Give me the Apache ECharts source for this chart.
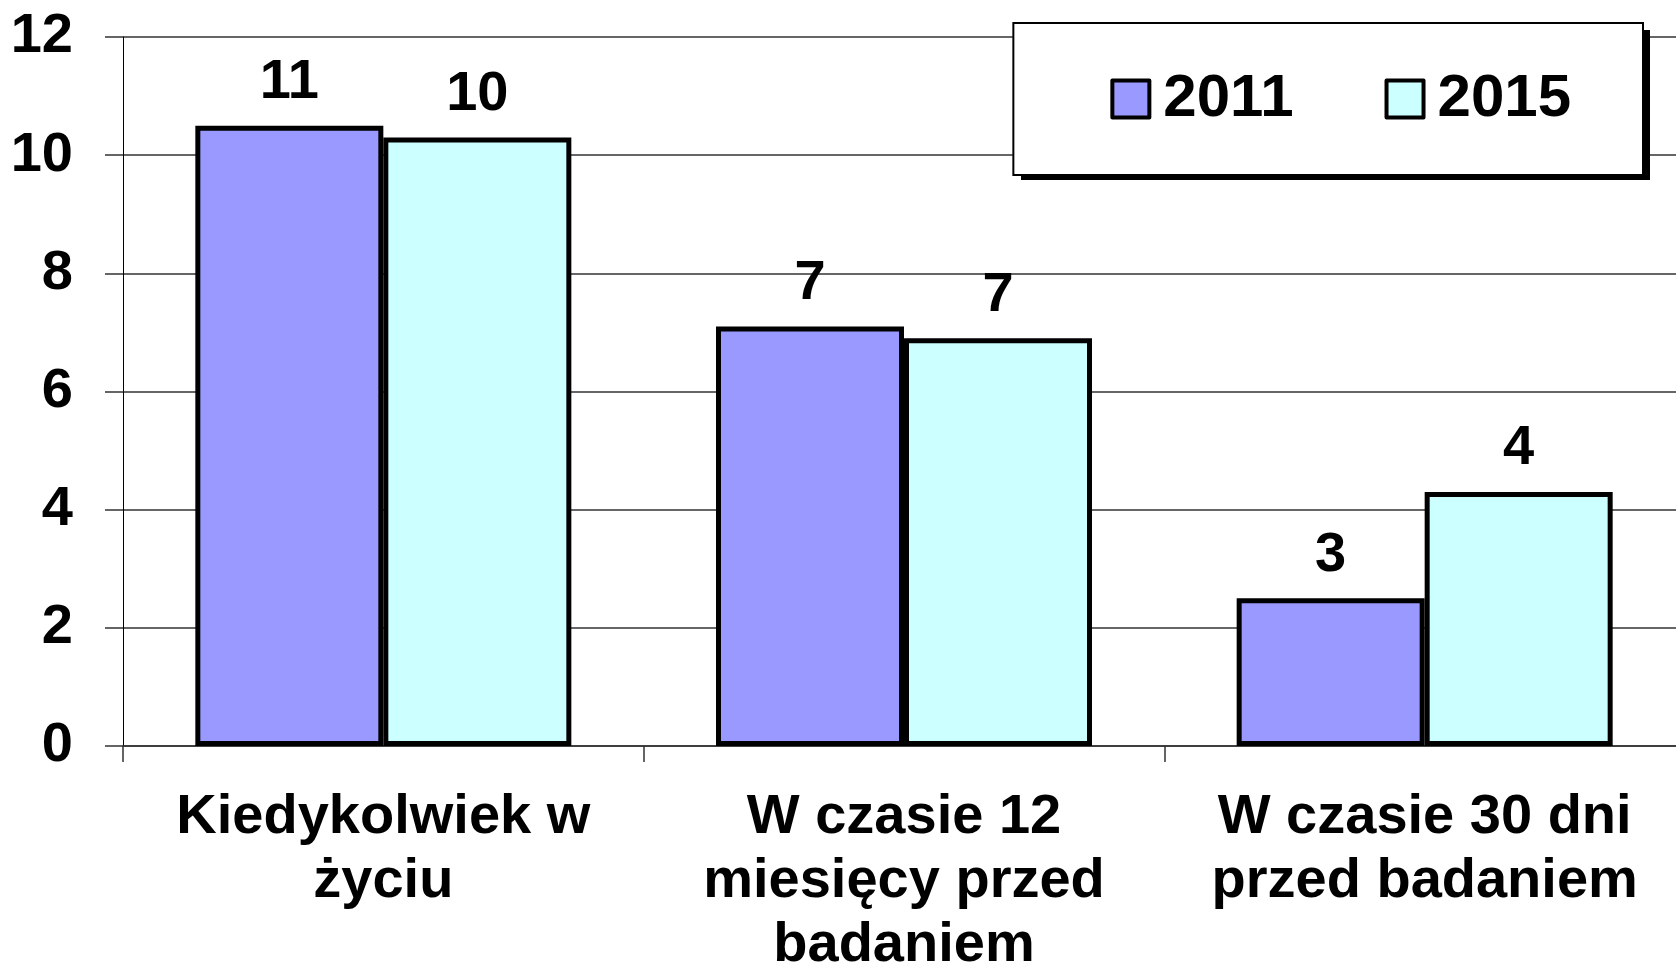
<!DOCTYPE html>
<html>
<head>
<meta charset="utf-8">
<script src="https://cdn.jsdelivr.net/npm/echarts@6/dist/echarts.min.js"></script>
<style>
html, body { margin: 0; padding: 0; background: #fff; }
#main { width: 1676px; height: 967px; }
</style>
</head>
<body>
<div id="main"></div>
<script>
// dane
var categories = ['Kiedykolwiek w\nżyciu', 'W czasie 12\nmiesięcy przed\nbadaniem', 'W czasie 30 dni\nprzed badaniem'];
var values2011 = [10.5, 7.1, 2.5];
var values2015 = [10.3, 6.9, 4.3];
var labels2011 = ['11', '7', '3'];
var labels2015 = ['10', '7', '4'];
var yTicks = [0, 2, 4, 6, 8, 10, 12];

var fontFam = '"Liberation Sans", Arial, sans-serif';

var myChart = echarts.init(document.getElementById('main'));

function labelFor(arr) {
    return {
        show: true,
        position: 'top',
        distance: 15,
        fontFamily: fontFam,
        fontWeight: 'bold',
        fontSize: 56,
        color: '#000',
        formatter: function (p) { return arr[p.dataIndex]; }
    };
}

var option = {
    backgroundColor: '#fff',
    animation: false,
    grid: {
        left: 123,
        top: 37,
        width: 1562,
        bottom: 221,
        outerBoundsMode: 'none',
        containLabel: false
    },
    // cień ramki legendy
    graphic: [{
        type: 'rect',
        right: 26,
        top: 30,
        z: 1,
        shape: { width: 629, height: 150 },
        style: { fill: '#000' }
    }],
    legend: {
        right: 33,
        top: 23,
        z: 5,
        orient: 'horizontal',
        backgroundColor: '#fff',
        borderColor: '#000',
        borderWidth: 2,
        padding: [46, 72, 46, 97],
        itemGap: 91,
        itemWidth: 37,
        itemHeight: 37,
        icon: 'rect',
        itemStyle: { borderColor: '#000', borderWidth: 4, borderJoin: 'round' },
        textStyle: {
            fontFamily: fontFam,
            fontWeight: 'bold',
            fontSize: 60,
            color: '#000',
            padding: [0, 0, 0, 9]
        },
        data: ['2011', '2015']
    },
    xAxis: {
        type: 'category',
        data: categories,
        axisLine: { show: true, lineStyle: { color: '#333', width: 1.5 } },
        axisTick: { show: true, length: 16, lineStyle: { color: '#333', width: 1.5 } },
        axisLabel: {
            margin: 40,
            fontFamily: fontFam,
            fontWeight: 'bold',
            fontSize: 56,
            lineHeight: 64,
            color: '#000',
            interval: 0
        }
    },
    yAxis: {
        type: 'value',
        min: yTicks[0],
        max: yTicks[yTicks.length - 1],
        interval: 2,
        axisLine: { show: true, lineStyle: { color: '#000', width: 1 } },
        axisTick: { show: true, length: 18, lineStyle: { color: '#333', width: 1.5 } },
        splitLine: { show: true, lineStyle: { color: '#333', width: 1.5 } },
        axisLabel: {
            margin: 50,
            fontFamily: fontFam,
            fontWeight: 'bold',
            fontSize: 56,
            color: '#000'
        }
    },
    series: [
        {
            name: '2011',
            type: 'bar',
            data: values2011,
            barWidth: 188,
            barGap: '0%',
            itemStyle: { color: '#9999FF', borderColor: '#000', borderWidth: 5 },
            label: labelFor(labels2011)
        },
        {
            name: '2015',
            type: 'bar',
            data: values2015,
            barWidth: 188,
            barGap: '0%',
            itemStyle: { color: '#CCFFFF', borderColor: '#000', borderWidth: 5 },
            label: labelFor(labels2015)
        }
    ]
};

myChart.setOption(option);
</script>
</body>
</html>
